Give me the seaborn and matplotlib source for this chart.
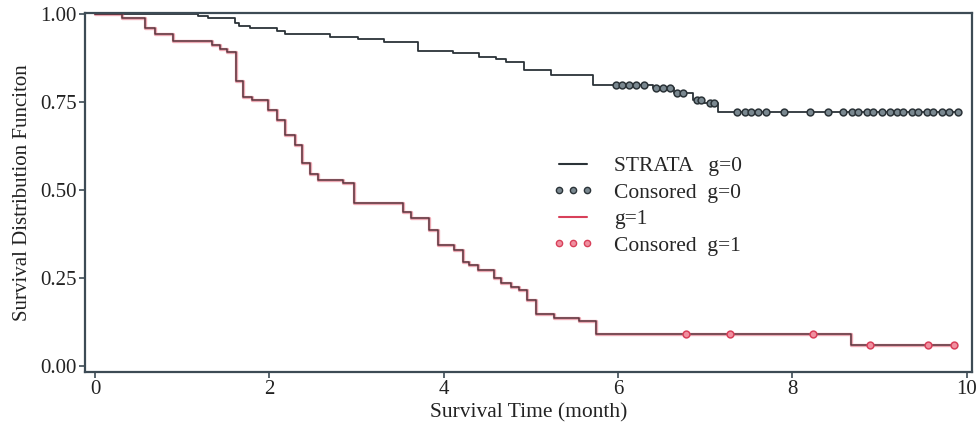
import numpy as np
import pandas as pd
import matplotlib
matplotlib.use("Agg")
import matplotlib.pyplot as plt
from matplotlib.lines import Line2D
import seaborn as sns

# Kaplan-Meier step curves (time in months, survival)
time_g0 = [0, 1.18, 1.30, 1.61, 1.65, 1.78, 2.09, 2.18, 2.70, 3.02, 3.31, 3.70,
           4.11, 4.40, 4.60, 4.71, 4.92, 5.23, 5.71, 6.40, 6.64, 6.86, 6.99,
           7.15, 9.92]
surv_g0 = [1.0, 0.994, 0.989, 0.974, 0.966, 0.960, 0.952, 0.943, 0.935, 0.929,
           0.920, 0.895, 0.889, 0.878, 0.872, 0.864, 0.841, 0.827, 0.798,
           0.790, 0.776, 0.756, 0.747, 0.722, 0.722]

time_g1 = [0, 0.31, 0.57, 0.69, 0.89, 1.34, 1.44, 1.52, 1.62, 1.70, 1.80, 1.99,
           2.09, 2.18, 2.30, 2.38, 2.47, 2.56, 2.85, 2.97, 3.53, 3.62, 3.83,
           3.93, 4.12, 4.22, 4.29, 4.39, 4.58, 4.66, 4.77, 4.86, 4.96, 5.06,
           5.27, 5.55, 5.75, 8.67, 9.88]
surv_g1 = [1.0, 0.989, 0.960, 0.943, 0.923, 0.912, 0.900, 0.892, 0.810, 0.764,
           0.756, 0.727, 0.699, 0.656, 0.628, 0.577, 0.545, 0.528, 0.520,
           0.463, 0.438, 0.420, 0.386, 0.344, 0.330, 0.296, 0.287, 0.273,
           0.250, 0.236, 0.224, 0.216, 0.187, 0.148, 0.136, 0.128, 0.090,
           0.060, 0.060]

# censoring times
cens_g0 = [5.98, 6.05, 6.12, 6.20, 6.30, 6.44, 6.52, 6.60, 6.68, 6.75, 6.90,
           6.95, 7.05, 7.10, 7.36, 7.45, 7.53, 7.61, 7.70, 7.90, 8.20, 8.41,
           8.58, 8.68, 8.75, 8.85, 8.92, 9.03, 9.12, 9.20, 9.27, 9.37, 9.44,
           9.54, 9.61, 9.71, 9.80, 9.90]
cens_g1 = [6.78, 7.28, 8.24, 8.89, 9.56, 9.85]

x_ticks = [0, 2, 4, 6, 8, 10]
y_ticks = [0.0, 0.25, 0.5, 0.75, 1.0]


def surv_at(times, surv, points):
    # value of the step curve at the censoring times
    idx = np.searchsorted(times, points, side="right") - 1
    return np.asarray(surv)[idx]


sns.set_theme(style="ticks")
plt.rcParams["font.family"] = ["Liberation Serif", "DejaVu Serif"]

dark = "#2b3338"
red = "#d8405a"
box = "#3d4b55"

fig = plt.figure(figsize=(9.76, 4.36), dpi=100)
ax = fig.add_axes([0.087, 0.147, 0.909, 0.823])

df0 = pd.DataFrame({"t": time_g0, "s": surv_g0})
df1 = pd.DataFrame({"t": time_g1, "s": surv_g1})
c0 = pd.DataFrame({"t": cens_g0, "s": surv_at(time_g0, surv_g0, cens_g0)})
c1 = pd.DataFrame({"t": cens_g1, "s": surv_at(time_g1, surv_g1, cens_g1)})

sns.lineplot(data=df0, x="t", y="s", ax=ax, estimator=None, sort=False,
             drawstyle="steps-post", color=dark, lw=1.3)
# red curve: soft red halo with a darker core, like the scanned original
sns.lineplot(data=df1, x="t", y="s", ax=ax, estimator=None, sort=False,
             drawstyle="steps-post", color=red, lw=2.4, alpha=0.45)
sns.lineplot(data=df1, x="t", y="s", ax=ax, estimator=None, sort=False,
             drawstyle="steps-post", color="#5a343c", lw=1.1)

sns.scatterplot(data=c0, x="t", y="s", ax=ax, s=24, marker="o",
                color="#7a8890", edgecolor=dark, linewidth=1.1, zorder=5)
sns.scatterplot(data=c1, x="t", y="s", ax=ax, s=24, marker="o",
                color="#f090a0", edgecolor=red, linewidth=1.1, zorder=5)

handles = [
    Line2D([], [], color=dark, lw=1.5),
    Line2D([], [], ls="none", marker="o", ms=4.5, mfc="#7a8890", mec=dark, mew=1.0),
    Line2D([], [], color=red, lw=1.5),
    Line2D([], [], ls="none", marker="o", ms=4.5, mfc="#f090a0", mec=red, mew=1.0),
]
labels = ["STRATA   g=0", "Consored  g=0", "g=1", "Consored  g=1"]
ax.legend(handles, labels, loc="upper left", bbox_to_anchor=(0.505, 0.655),
          frameon=False, numpoints=3, handlelength=1.9, handletextpad=0.95,
          labelspacing=0.3, fontsize=15.5)

ax.set_xlim(-0.115, 10.06)
ax.set_ylim(-0.017, 1.003)
ax.set_xticks(x_ticks)
ax.set_xticklabels([str(v) for v in x_ticks])
ax.set_yticks(y_ticks)
ax.set_yticklabels([f"{v:.2f}" for v in y_ticks])
ax.tick_params(axis="both", labelsize=15, colors="#222222", length=4,
               width=1.2, direction="out", pad=2)
ax.tick_params(axis="both", color=box)

for sp in ax.spines.values():
    sp.set_visible(True)
    sp.set_color(box)
    sp.set_linewidth(1.6)

ax.set_xlabel("Survival Time (month)", fontsize=15.5, color="#222222", labelpad=3)
ax.set_ylabel("Survival Distribution Funciton", fontsize=15, color="#222222",
              labelpad=6)

fig.savefig("out.png", dpi=100)
